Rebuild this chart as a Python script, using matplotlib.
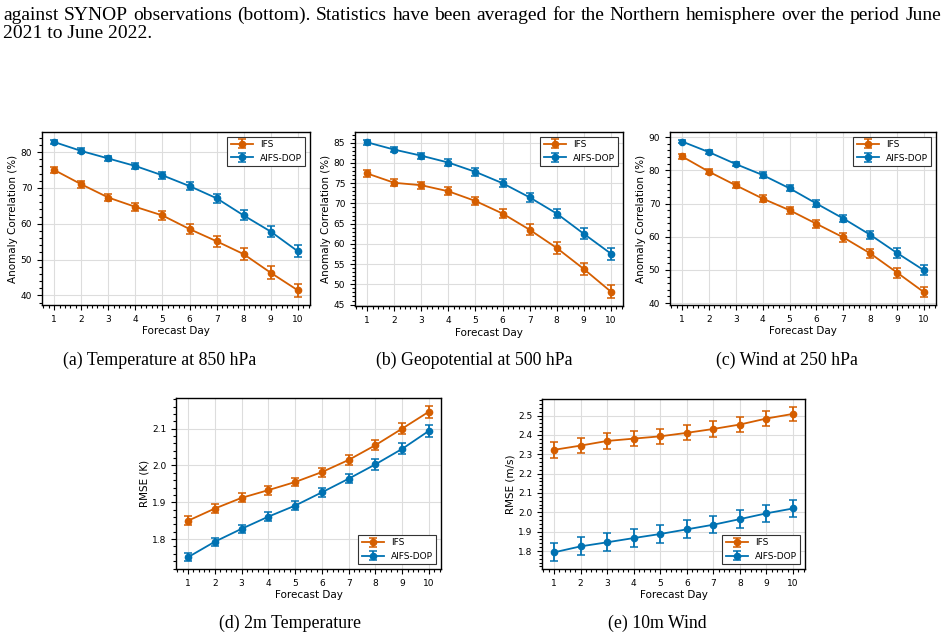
import numpy as np
import matplotlib
matplotlib.use("Agg")
import matplotlib.pyplot as plt
from matplotlib.ticker import MultipleLocator, AutoMinorLocator

days = np.arange(1, 11)

# (a) temperature 850 hPa, anomaly correlation (%)
t850_ifs = [75.0, 71.0, 67.3, 64.7, 62.3, 58.5, 55.1, 51.5, 46.3, 41.4]
t850_ifs_err = [0.9, 1.0, 1.1, 1.2, 1.3, 1.4, 1.5, 1.6, 1.8, 1.9]
t850_aifs = [82.8, 80.3, 78.2, 76.1, 73.5, 70.5, 67.1, 62.3, 57.8, 52.3]
t850_aifs_err = [0.6, 0.7, 0.8, 0.9, 1.0, 1.1, 1.2, 1.4, 1.5, 1.7]

# (b) geopotential 500 hPa
z500_ifs = [77.4, 75.1, 74.5, 73.0, 70.6, 67.5, 63.5, 59.0, 53.8, 48.2]
z500_ifs_err = [0.8, 0.9, 0.9, 1.0, 1.1, 1.2, 1.3, 1.4, 1.5, 1.6]
z500_aifs = [85.1, 83.3, 81.8, 80.1, 77.8, 75.0, 71.5, 67.5, 62.5, 57.6]
z500_aifs_err = [0.6, 0.7, 0.7, 0.8, 0.9, 1.0, 1.1, 1.2, 1.4, 1.5]

# (c) wind 250 hPa
w250_ifs = [84.2, 79.6, 75.5, 71.5, 68.0, 63.9, 59.8, 55.0, 49.2, 43.3]
w250_ifs_err = [0.7, 0.8, 0.9, 1.0, 1.1, 1.2, 1.3, 1.4, 1.5, 1.5]
w250_aifs = [88.7, 85.5, 81.9, 78.6, 74.6, 70.0, 65.5, 60.6, 55.1, 49.9]
w250_aifs_err = [0.5, 0.6, 0.7, 0.8, 0.9, 1.0, 1.1, 1.2, 1.4, 1.5]

# (d) 2m temperature RMSE (K)
t2m_ifs = [1.850, 1.883, 1.912, 1.933, 1.955, 1.982, 2.015, 2.055, 2.100, 2.146]
t2m_ifs_err = [0.012, 0.012, 0.012, 0.012, 0.012, 0.012, 0.013, 0.013, 0.015, 0.016]
t2m_aifs = [1.751, 1.793, 1.828, 1.861, 1.891, 1.927, 1.964, 2.003, 2.045, 2.094]
t2m_aifs_err = [0.011, 0.011, 0.011, 0.012, 0.012, 0.012, 0.013, 0.014, 0.015, 0.016]

# (e) 10m wind RMSE (m/s)
w10_ifs = [2.323, 2.345, 2.369, 2.381, 2.393, 2.411, 2.431, 2.454, 2.485, 2.509]
w10_ifs_err = [0.040, 0.039, 0.039, 0.039, 0.039, 0.039, 0.039, 0.039, 0.037, 0.037]
w10_aifs = [1.793, 1.824, 1.845, 1.867, 1.888, 1.912, 1.936, 1.965, 1.995, 2.020]
w10_aifs_err = [0.046, 0.046, 0.046, 0.046, 0.046, 0.046, 0.045, 0.045, 0.044, 0.044]

top_line1 = ("against SYNOP observations (bottom). Statistics have been averaged "
             "for the Northern hemisphere over the period June")
top_line2 = "2021 to June 2022."

IFS_COL = "#D55E00"
AIFS_COL = "#0072B2"

fig = plt.figure(figsize=(9.48, 6.39), dpi=100)
W, H = 948.0, 639.0


def add_ax(x0, y0, x1, y1):
    return fig.add_axes([x0 / W, 1 - y1 / H, (x1 - x0) / W, (y1 - y0) / H])


def panel(ax, ifs, ifs_err, aifs, aifs_err, ylabel, major, loc):
    for vals, err, col, lab in [(ifs, ifs_err, IFS_COL, "IFS"),
                                (aifs, aifs_err, AIFS_COL, "AIFS-DOP")]:
        ax.errorbar(days, vals, yerr=err, color=col, ecolor=col, marker="o",
                    markersize=4.5, linewidth=1.3, elinewidth=1.3, capsize=3,
                    capthick=1.1, label=lab)
    ax.set_xticks(days)
    ax.xaxis.set_minor_locator(MultipleLocator(0.2))
    ax.yaxis.set_major_locator(MultipleLocator(major))
    ax.yaxis.set_minor_locator(AutoMinorLocator(5))
    ax.grid(True, which="major", color="#dddddd", linewidth=0.8)
    ax.set_axisbelow(True)
    ax.tick_params(axis="both", which="major", labelsize=6.5, length=3.5, width=0.8)
    ax.tick_params(axis="both", which="minor", length=2, width=0.8)
    ax.set_xlabel("Forecast Day", fontsize=7.5, labelpad=2)
    ax.set_ylabel(ylabel, fontsize=7.5, labelpad=2)
    for s in ax.spines.values():
        s.set_linewidth(1.0)
    leg = ax.legend(loc=loc, fontsize=6.5, fancybox=False, framealpha=1,
                    edgecolor="#333333", borderpad=0.4, handlelength=2.4)
    leg.get_frame().set_linewidth(0.8)


ax_a = add_ax(42, 132, 310, 305)
panel(ax_a, t850_ifs, t850_ifs_err, t850_aifs, t850_aifs_err,
      "Anomaly Correlation (%)", 10, "upper right")
ax_b = add_ax(355, 132, 623, 306)
panel(ax_b, z500_ifs, z500_ifs_err, z500_aifs, z500_aifs_err,
      "Anomaly Correlation (%)", 5, "upper right")
ax_c = add_ax(670, 132, 936, 305)
panel(ax_c, w250_ifs, w250_ifs_err, w250_aifs, w250_aifs_err,
      "Anomaly Correlation (%)", 10, "upper right")
ax_d = add_ax(176, 398, 441, 569)
panel(ax_d, t2m_ifs, t2m_ifs_err, t2m_aifs, t2m_aifs_err,
      "RMSE (K)", 0.1, "lower right")
ax_e = add_ax(542, 399, 805, 569)
panel(ax_e, w10_ifs, w10_ifs_err, w10_aifs, w10_aifs_err,
      "RMSE (m/s)", 0.1, "lower right")

serif = "Liberation Serif"
captions = [("(a) Temperature at 850 hPa", 160, 360),
            ("(b) Geopotential at 500 hPa", 474, 360),
            ("(c) Wind at 250 hPa", 787, 360),
            ("(d) 2m Temperature", 290, 623),
            ("(e) 10m Wind", 657, 623)]
for txt, x, y in captions:
    fig.text(x / W, 1 - y / H, txt, ha="center", va="center",
             fontsize=12.8, family=serif)

# justified first line of the paragraph above the figure
renderer = fig.canvas.get_renderer()
words = top_line1.split()
left, right, top_fs = 3.0, 941.0, 14.0
arts = [fig.text(0, 1 - 19.5 / H, w, ha="left", va="baseline",
                 fontsize=top_fs, family=serif) for w in words]
widths = [a.get_window_extent(renderer).width for a in arts]
gap = (right - left - sum(widths)) / (len(words) - 1)
x = left
for a, w in zip(arts, widths):
    a.set_x(x / W)
    x += w + gap
fig.text(left / W, 1 - 37.5 / H, top_line2, ha="left", va="baseline",
         fontsize=top_fs, family=serif)

fig.savefig("out.png", dpi=100)
